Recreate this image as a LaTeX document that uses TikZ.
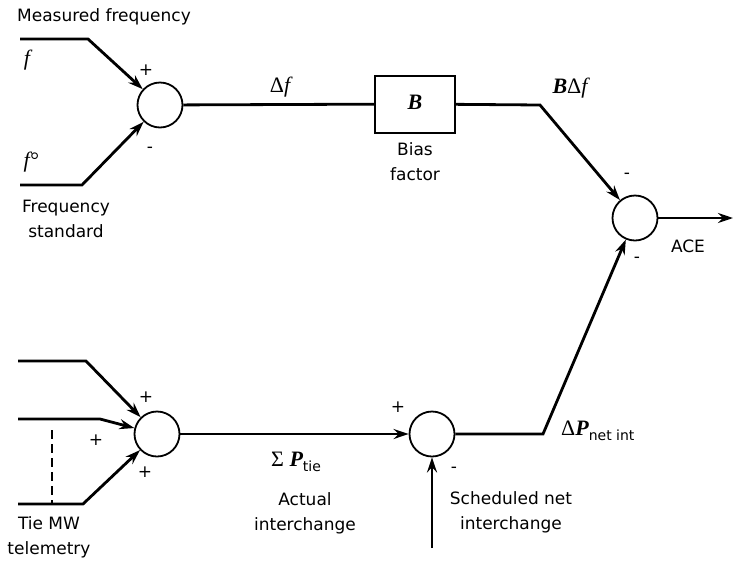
\documentclass[tikz,border=0pt]{standalone}
\usepackage{fontspec}
\setmainfont{DejaVu Sans}
\newfontfamily\lab{DejaVu Sans}
\newfontfamily\mser{Liberation Serif}
\usetikzlibrary{arrows.meta}
\begin{document}
\begin{tikzpicture}[x=1pt,y=-1pt,
  sig/.style={line width=2.8pt},
  arr/.style={sig,-{Stealth[length=15pt,width=10pt,inset=5pt]}},
  sumc/.style={circle,draw,line width=1.8pt,minimum size=45pt,inner sep=0pt},
  blk/.style={rectangle,draw,line width=2pt,minimum width=80pt,minimum height=57pt,inner sep=0pt},
  lbl/.style={font=\lab\fontsize{17}{25}\selectfont,align=center,inner sep=0pt},
  mth/.style={font=\mser\fontsize{22}{24}\selectfont\itshape,inner sep=0pt},
  sgn/.style={font=\lab\fontsize{17}{17}\selectfont,inner sep=0pt}]
\useasboundingbox (0,0) rectangle (733,563);

% summing junctions and block
\node[sumc] (S1) at (160,105) {};
\node[blk] (B) at (415,104) {};
\node[mth,font=\mser\fontsize{22}{24}\selectfont\bfseries\itshape] (Bt) at (415,102) {B};
\node[sumc] (S2) at (635,218) {};
\node[sumc] (S3) at (157,434) {};
\node[sumc] (S4) at (432,434) {};

% coordinates
\coordinate (f0) at (20,39);   \coordinate (f1) at (88,39);
\coordinate (g0) at (20,185);  \coordinate (g1) at (82,185);
\coordinate (b1) at (540,105);
\coordinate (ace) at (733,218);
\coordinate (t10) at (18,361); \coordinate (t11) at (86,361);
\coordinate (t20) at (18,419); \coordinate (t21) at (100,419);
\coordinate (t30) at (18,504); \coordinate (t31) at (83,504);
\coordinate (d0) at (52,430);  \coordinate (d1) at (52,504);
\coordinate (sc) at (432,548);
\coordinate (p1) at (543,434);

% connectors
\draw[arr] (f0) -- (f1) -- (S1);
\draw[arr] (g0) -- (g1) -- (S1);
\draw[sig] (S1) -- (B);
\draw[arr] (B) -- (b1) -- (S2);
\draw[arr] (S2) -- (ace);
\draw[arr] (t10) -- (t11) -- (S3);
\draw[arr] (t20) -- (t21) -- (S3);
\draw[arr] (t30) -- (t31) -- (S3);
\draw[line width=1.4pt,dash pattern=on 9pt off 5pt] (d0) -- (d1);
\draw[arr] (S3) -- (S4);
\draw[arr] (sc) -- (S4);
\draw[arr] (S4) -- (p1) -- (S2);

% text labels
\node[lbl] (mf) at (104,17) {Measured frequency};
\node[lbl] (fs) at (66,219) {Frequency\\standard};
\node[lbl] (bf) at (415,162) {Bias\\factor};
\node[lbl] (acel) at (688,246) {ACE};
\node[lbl] (tmw) at (49,537) {Tie MW\\telemetry};
\node[lbl] (ai) at (305,513) {Actual\\interchange};
\node[lbl] (sni) at (511,512) {Scheduled net\\interchange};

% math labels
\node[mth] (fl) at (27,60) {f};
\node[mth] (fol) at (31,162) {f°};
\node[mth] (dfl) at (280,87) {{\upshape Δ}f};
\node[mth] (bdf) at (570,88) {{\bfseries B}{\upshape Δ}f};
\node[mth,anchor=west] (spt) at (271,462) {{\upshape Σ} {\bfseries P}\raisebox{-5pt}{\lab\upshape\fontsize{14}{14}\selectfont tie}};
\node[mth,anchor=west] (dpn) at (561,431) {{\upshape Δ}{\bfseries P}\raisebox{-5pt}{\lab\upshape\fontsize{14}{14}\selectfont net int}};

% signs
\node[sgn] (s1a) at (146,70) {+};
\node[sgn] (s1b) at (150,150) {-};
\node[sgn] (s2a) at (627,176) {-};
\node[sgn] (s2b) at (637,260) {-};
\node[sgn] (s3a) at (146,397) {+};
\node[sgn] (s3b) at (96,440) {+};
\node[sgn] (s3c) at (145,472) {+};
\node[sgn] (s4a) at (398,407) {+};
\node[sgn] (s4b) at (454,470) {-};
\end{tikzpicture}
\end{document}
